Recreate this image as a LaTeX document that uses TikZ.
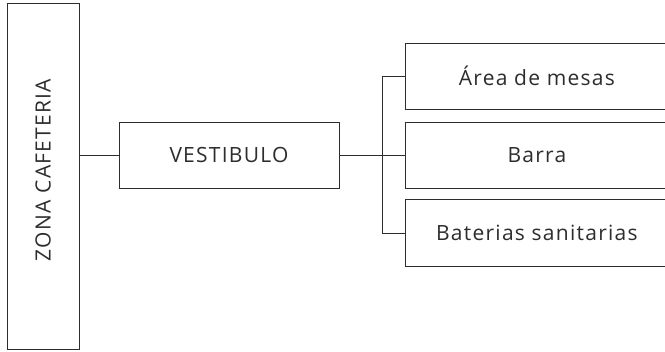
\documentclass[tikz,border=0pt]{standalone}
\usepackage{fontspec}
\setmainfont{Open Sans}[LetterSpace=6]
\usetikzlibrary{positioning}
\definecolor{lineaG}{RGB}{45,45,45}

\tikzset{
  caja/.style={draw=lineaG,line width=0.9pt,fill=white,text=lineaG,font=\fontsize{21}{24}\selectfont,
    minimum height=66pt,inner sep=0pt},
  enlace/.style={draw=lineaG,line width=0.9pt}
}

\begin{document}
\begin{tikzpicture}[x=1pt,y=1pt]
\useasboundingbox (0,0) rectangle (665,352);
\node[caja,minimum width=72pt,minimum height=346pt] (zona) at (43,176) {};
\node[rotate=90,text=lineaG,font=\fontsize{21}{24}\selectfont] (zonatxt) at (43,182) {ZONA CAFETERIA};
\node[caja,minimum width=220pt] (vest) at (229,197) {VESTIBULO};
\node[caja,minimum width=262pt,right=66pt of vest] (barra) {Barra};
\node[caja,minimum width=262pt,above=12pt of barra] (mesas) {Área de mesas};
\node[caja,minimum width=262pt,minimum height=67pt,below=11pt of barra] (banos) {Baterias sanitarias};
% conectores
\draw[enlace] (vest.west) -- (vest.west -| zona.east);
\draw[enlace] (vest.east) -- (barra.west);
\draw[enlace] (mesas.west) -- ++(-23pt,0) |- (banos.west);
\end{tikzpicture}
\end{document}
